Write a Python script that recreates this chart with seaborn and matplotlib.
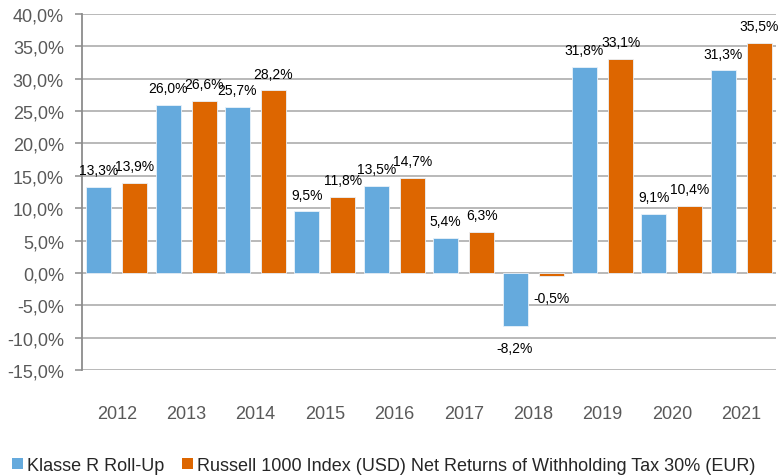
import matplotlib
matplotlib.use("Agg")
import matplotlib.pyplot as plt
from matplotlib.patches import Patch
import seaborn as sns
import pandas as pd

years = ["2012", "2013", "2014", "2015", "2016", "2017", "2018", "2019", "2020", "2021"]
series_names = ["Klasse R Roll-Up",
                "Russell 1000 Index (USD) Net Returns of Withholding Tax 30% (EUR)"]
klasse = [13.3, 26.0, 25.7, 9.5, 13.5, 5.4, -8.2, 31.8, 9.1, 31.3]
russell = [13.9, 26.6, 28.2, 11.8, 14.7, 6.3, -0.5, 33.1, 10.4, 35.5]
yticks = [-15, -10, -5, 0, 5, 10, 15, 20, 25, 30, 35, 40]

colors = ["#65AADD", "#DD6600"]

df = pd.DataFrame({
    "year": years * 2,
    "value": klasse + russell,
    "series": [series_names[0]] * len(years) + [series_names[1]] * len(years),
})

sns.set_style("white")
plt.rcParams["font.family"] = ["Liberation Sans", "DejaVu Sans"]

fig = plt.figure(figsize=(7.81, 4.77), dpi=100)
ax = fig.add_axes([82 / 781, 1 - 371 / 477, (776 - 82) / 781, (371 - 15) / 477])

sns.barplot(data=df, x="year", y="value", hue="series", order=years,
            hue_order=series_names, palette=colors, saturation=1, width=1.04, gap=0.31,
            ax=ax, legend=False, edgecolor="#EAF2FA", linewidth=0.6)

ax.set_ylim(-15, 40)
ax.set_xlim(-0.5, len(years) - 0.5)
ax.set_yticks(yticks)
ax.set_yticklabels([f"{v:.1f}%".replace(".", ",") for v in yticks])
ax.set_xlabel("")
ax.set_ylabel("")
ax.grid(axis="y", color="#A6A6A6", linewidth=1.1)
ax.grid(axis="x", visible=False)
ax.set_axisbelow(True)
for s in ["top", "right", "bottom"]:
    ax.spines[s].set_visible(False)
ax.spines["left"].set_color("#8C8C8C")
ax.spines["left"].set_linewidth(1.3)
ax.tick_params(axis="y", colors="#595959", labelsize=13, length=5, width=1.1,
               direction="out", pad=8, left=True)
ax.tick_params(axis="y", color="#8C8C8C")
ax.tick_params(axis="x", colors="#595959", labelsize=13, length=0, pad=25)

for container in ax.containers:
    for bar in container:
        h = bar.get_height()
        x = bar.get_x() + bar.get_width() / 2
        txt = f"{h:.1f}%".replace(".", ",")
        if h >= 0:
            ax.annotate(txt, (x, h), xytext=(0, 12), textcoords="offset points",
                        ha="center", va="center", fontsize=10, color="black")
        else:
            ax.annotate(txt, (x, h), xytext=(0, -15.5), textcoords="offset points",
                        ha="center", va="center", fontsize=10, color="black")

handles = [Patch(facecolor=c, edgecolor="none") for c in colors]
fig.legend(handles, series_names, loc="lower left", bbox_to_anchor=(-0.005, -0.03),
           ncol=2, frameon=False, fontsize=13, handlelength=0.6, handleheight=0.6,
           handletextpad=0.2, columnspacing=1.0)

fig.savefig("out.png", dpi=100)
